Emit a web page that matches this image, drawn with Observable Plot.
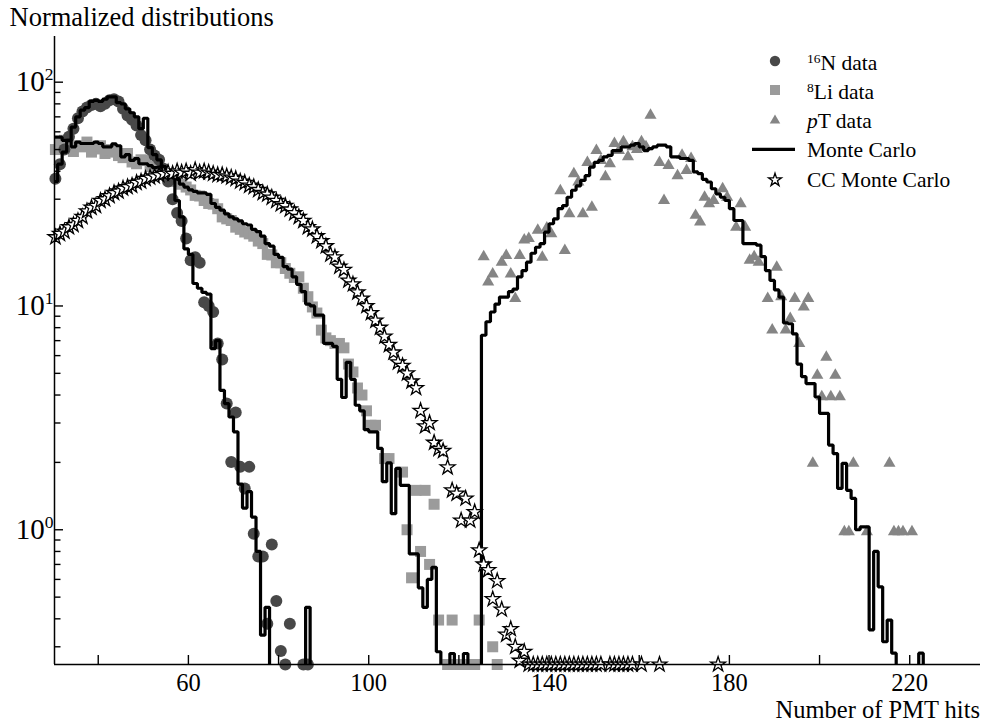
<!DOCTYPE html>
<html><head><meta charset="utf-8">
<script src="https://cdn.jsdelivr.net/npm/d3@7"></script>
<script src="https://cdn.jsdelivr.net/npm/@observablehq/plot@0.6"></script>
<style>
body{margin:0;background:#fff;}
#wrap{position:relative;width:981px;height:723px;font-family:"Liberation Serif","Times New Roman",serif;color:#000;overflow:hidden;}
.lbl{position:absolute;white-space:nowrap;line-height:1;}
#legend{position:absolute;left:740px;top:40px;}
</style></head><body>
<div id="wrap">
  <div id="chart"></div>
  <div class="lbl" style="left:9.5px;top:3.8px;font-size:26.5px;">Normalized distributions</div>
  <div class="lbl" style="right:1px;top:698px;font-size:24.5px;">Number of PMT hits</div>
  <svg id="legend" width="241" height="165"></svg>
</div>
<script>
// ---------- data (bin width = 1 PMT hit; arrays start at the given first bin) ----------
const n16Start = 30;
const n16Data = [37,43,50,57,62,69,74,77,79,80,78,80,83,84,82,76,71,68,64,58,55,50,47,45,41,36,30,26,24,20,16,16.5,15.6,10.4,10.0,9.4,6.8,5.76,3.67,2.01,3.34,1.91,1.53,1.91,0.96,0.76,0.76,0.38,0.86,0.48,0.287,0.25,0.38,null,null,0.25,0.25];
const n16MC = [36,43,48.7,55,63,70,75,77,82,83,82,84,86,86,81,80,76,73,70,62,69,51,47.5,45,42,40,38,29.6,25,18,17,12.6,12.0,11.5,11.3,6.45,7.0,4.2,3.66,3.19,2.74,1.6,1.25,1.48,1.14,0.80,0.338,0.45,0,0,0,0,0,0,0,0,0.45,0];

const li8Start = 30;
const li8Data = [50,53,55,51,49,52,51.4,54,48.7,50.3,52,48,50,48.7,47,46,48,44,43.2,45,44.7,42,41,40,39,38,36,36.5,35,34,33,31.2,31,29.6,28.7,28.5,27.2,25,24.5,24.1,22.5,22,21.4,21,20.5,19.5,19,17,16.9,15.6,15.6,14.7,14.0,13.4,13.5,12,11.0,9.9,9.3,7.8,7.2,7.0,6.8,6.8,6.5,5.5,5.07,4.3,4.0,3.4,2.93,2.93,null,2.08,2.08,null,null,1.81,1.0,0.61,1.5,0.80,1.5,0.70,1.30,0.395,null,0.25,0.395,0.25,0.25,null,0.25,0.25,0.395,null,null,0.30,0.25];
const li8MC = [56.8,56.8,55,55,51.4,54,53.2,53.2,53.2,54,53.2,51.4,51.4,53,52,46.4,47.5,44.7,45.5,43.2,43.2,42.4,41.5,41.7,41.5,40.3,38,37,35,34,33,32.5,32,32,31.5,28.7,27.6,26.8,25.8,25,24.5,24,23.3,23,22,21.5,20.5,19,18.5,17,16.5,15,14.6,13.5,12.5,11.6,10.2,10,9.1,9.1,6.8,6.8,6.6,4.7,3.9,5.6,4.7,3.6,3.4,2.8,2.74,2.74,2.31,1.64,1.99,1.18,1.88,1.58,1.58,0.78,0.78,0.55,0.45,0.60,0.68,0.285,0,0,0.28,0,0,0.28,0,0];

const ptStart = 125;
const ptData = [16.6,12.8,13.9,null,15.7,16.8,13.9,10.8,16.8,19.7,20.0,null,21.8,16.5,22.3,21,null,32.7,17.7,25.8,39.0,35.8,25.8,43.8,27.6,49.5,44.7,37.8,43.2,53.2,49.5,54.2,46.4,51.4,50,54.2,51.4,71.1,null,43.8,29.6,42.4,null,38.2,47.1,40.3,45.6,25.4,23.7,30.6,28.6,29.6,null,33.4,30.6,null,22.5,28.6,22.5,16.0,16.6,15.7,null,10.8,7.8,14.9,11.0,7.8,8.8,10.8,6.8,9.9,10.8,1.98,4.9,3.93,5.9,3.93,4.9,3.93,0.98,0.98,1.98,null,null,0.98,null,null,null,null,1.98,0.98,0.98,0.98,null,0.98];
const ptMCStart = 124;
const ptMC = [0,7.4,8.5,9.4,10.2,10.96,10.96,11.6,11.9,13.5,14.4,15.7,17.2,18.3,19.0,21.4,23.3,24.5,27.2,28.1,30.6,32.9,34.4,36.4,38.2,41.7,43.8,44.7,46.4,47.1,49.5,49.5,51.4,51.4,52.3,53.2,51.4,49.5,50.5,51.4,52.3,52.3,51.4,46.4,46.4,45.6,45.6,44.7,39.7,39.0,36.8,35.8,33.4,31.7,30.6,29.6,27.2,24.1,24.1,19.0,19.0,19.0,18.7,16.6,14.4,13.0,11.8,10.96,8.4,8.33,7.5,5.5,4.83,4.5,4.5,3.92,3.31,3.31,2.39,2.19,1.53,1.98,1.50,1.38,1.0,1.03,1.03,0.357,0.80,0.556,0.316,0.395,0.281,0,0,0,0,0,0.281,0];

const ccStart = 30;
const ccMC = [20.3,21.0,21.5,22.5,23.0,24.0,25.0,26.5,27.5,28.0,29.5,30.0,31.0,32.0,32.5,33.5,34.0,34.5,35.5,36.0,37.0,37.5,38.0,38.5,39.0,39.5,39.0,40.0,39.5,40.0,39.0,40.5,39.5,40.0,39.5,39.0,38.5,38.5,38.0,37.5,37.0,36.0,35.5,34.5,34.0,33.0,32.0,31.5,30.5,29.5,28.5,28.0,27.0,26.0,25.0,24.0,22.5,22.0,20.5,19.5,18.5,17.0,16.5,15.0,14.5,13.0,12.5,11.5,10.8,10.0,9.3,8.6,8.0,7.3,6.7,6.2,5.6,5.4,5.0,4.6,4.3,3.4,2.9,3.0,2.45,2.3,2.25,1.9,1.5,1.45,1.1,1.38,1.1,1.2,0.81,0.7,0.66,0.49,0.59,0.44,0.34,0.36,0.3,0.26,0.285,0.25,0.25,0.25,0.25,0.25,0.25,0.25,0.25,0.25,0.25,0.25,0.25,0.25,0.25,0.25,0.25,0.25,null,0.25,0.25,0.25,0.25,0.25,0.25,null,0.25,null,null,null,0.25,null,null,null,null,null,null,null,null,null,null,null,null,0.25];

const xTicks = [40,60,80,100,120,140,160,180,200,220];
const xTickLabels = [60,100,140,180,220];
const yMajor = [1,10,100];
const yMinor = [0.3,0.4,0.5,0.6,0.7,0.8,0.9,2,3,4,5,6,7,8,9,20,30,40,50,60,70,80,90];

// ---------- helpers ----------
const FLOOR = 0.01; // empty histogram bin: drawn below the frame and clipped
function steps(start, vals) {
  const rows = vals.map((v, i) => ({x: start + i, y: v > 0 ? v : FLOOR}));
  const last = vals[vals.length - 1];
  rows.push({x: start + vals.length, y: last > 0 ? last : FLOOR});
  return rows;
}
function points(start, vals) {
  return vals.map((v, i) => ({x: start + i + 0.5, y: v})).filter(d => d.y != null);
}

const xDomain = [30.3, 235.7];
const yDomain = [0.25, 160];
const serif = "Liberation Serif, Times New Roman, serif";

const chart = Plot.plot({
  width: 981, height: 723,
  marginLeft: 54, marginRight: 1, marginTop: 36, marginBottom: 59,
  style: {fontFamily: serif, background: "white", overflow: "visible", color: "black"},
  x: {domain: xDomain, label: null},
  y: {type: "log", domain: yDomain, label: null},
  marks: [
    Plot.dot(points(li8Start, li8Data), {x: "x", y: "y", symbol: "square", r: 6.2, fill: "#9b9b9b", stroke: "none"}),
    Plot.dot(points(n16Start, n16Data), {x: "x", y: "y", symbol: "circle", r: 6, fill: "#484848", stroke: "none"}),
    Plot.dot(points(ptStart, ptData), {x: "x", y: "y", symbol: "triangle", r: 4.5, fill: "#858585", stroke: "none"}),
    Plot.line(steps(n16Start, n16MC), {x: "x", y: "y", curve: "step-after", stroke: "black", strokeWidth: 3.2, strokeLinejoin: "miter", clip: true}),
    Plot.line(steps(li8Start, li8MC), {x: "x", y: "y", curve: "step-after", stroke: "black", strokeWidth: 3.2, strokeLinejoin: "miter", clip: true}),
    Plot.line(steps(ptMCStart, ptMC), {x: "x", y: "y", curve: "step-after", stroke: "black", strokeWidth: 3.2, strokeLinejoin: "miter", clip: true}),
    Plot.dot(points(ccStart, ccMC), {x: "x", y: "y", symbol: "star", r: 4.7, fill: "white", stroke: "black", strokeWidth: 1.3}),
    Plot.ruleX([xDomain[0]], {stroke: "black", strokeWidth: 1.5}),
    Plot.ruleY([yDomain[0]], {stroke: "black", strokeWidth: 1.5}),
    Plot.axisX({ticks: xTicks, tickSize: -9, fill: "none", strokeWidth: 1.4, label: null}),
    Plot.axisX({ticks: xTickLabels, tickSize: 0, tickPadding: 9.5, fontSize: 24.5, fontFamily: serif, label: null, tickFormat: d => String(d)}),
    Plot.axisY({ticks: yMinor, tickSize: -6.5, fill: "none", strokeWidth: 1.4, label: null}),
    Plot.axisY({ticks: yMajor, tickSize: -9, fill: "none", strokeWidth: 1.4, label: null}),
    Plot.axisY({ticks: yMajor, tickSize: 0, tickPadding: 1, fontSize: 29, fontFamily: serif, label: null, tickFormat: d => "10^" + Math.round(Math.log10(d))})
  ]
});
document.getElementById("chart").appendChild(chart);

// superscript exponents in the y tick labels
d3.select(chart).selectAll("text").each(function() {
  const t = this.textContent;
  const m = /^10\^(-?\d+)$/.exec(t);
  if (!m) return;
  const el = d3.select(this);
  el.text(null);
  el.append("tspan").text("10");
  el.append("tspan").attr("dy", "-11.5").attr("font-size", 17.5).text(m[1]);
});

// ---------- legend ----------
const lg = d3.select("#legend");
const items = [
  {type: "circle", label: ["16", "N data"]},
  {type: "square", label: ["8", "Li data"]},
  {type: "triangle", label: ["", "T data", "p"]},
  {type: "line", label: ["", "Monte Carlo"]},
  {type: "star", label: ["", "CC Monte Carlo"]}
];
const rowY = [21, 50, 80.5, 109.3, 140];
const baseY = [29.5, 59, 87.5, 117, 147];
items.forEach((it, i) => {
  const cx = 35, cy = rowY[i];
  if (it.type === "line") {
    lg.append("line").attr("x1", 12).attr("x2", 55).attr("y1", cy).attr("y2", cy).attr("stroke", "black").attr("stroke-width", 3.2);
  } else {
    const sym = {circle: d3.symbolCircle, square: d3.symbolSquare, triangle: d3.symbolTriangle, star: d3.symbolStar}[it.type];
    const size = {circle: 85, square: 100, triangle: 48, star: 52}[it.type];
    const fill = {circle: "#484848", square: "#9b9b9b", triangle: "#858585", star: "white"}[it.type];
    lg.append("path").attr("d", d3.symbol(sym, size)()).attr("transform", `translate(${cx},${cy})`)
      .attr("fill", fill).attr("stroke", it.type === "star" ? "black" : "none").attr("stroke-width", 1.3);
  }
  const tx = lg.append("text").attr("x", 67).attr("y", baseY[i]).attr("font-size", 21.5).attr("font-family", serif).attr("fill", "black");
  if (it.label[2]) {
    tx.append("tspan").attr("font-style", "italic").text(it.label[2]);
    tx.append("tspan").text(it.label[1]);
  } else if (it.label[0]) {
    tx.append("tspan").attr("font-size", 13.5).attr("dy", -7).text(it.label[0]);
    tx.append("tspan").attr("dy", 7).text(it.label[1]);
  } else {
    tx.append("tspan").text(it.label[1]);
  }
});
</script>
</body></html>
